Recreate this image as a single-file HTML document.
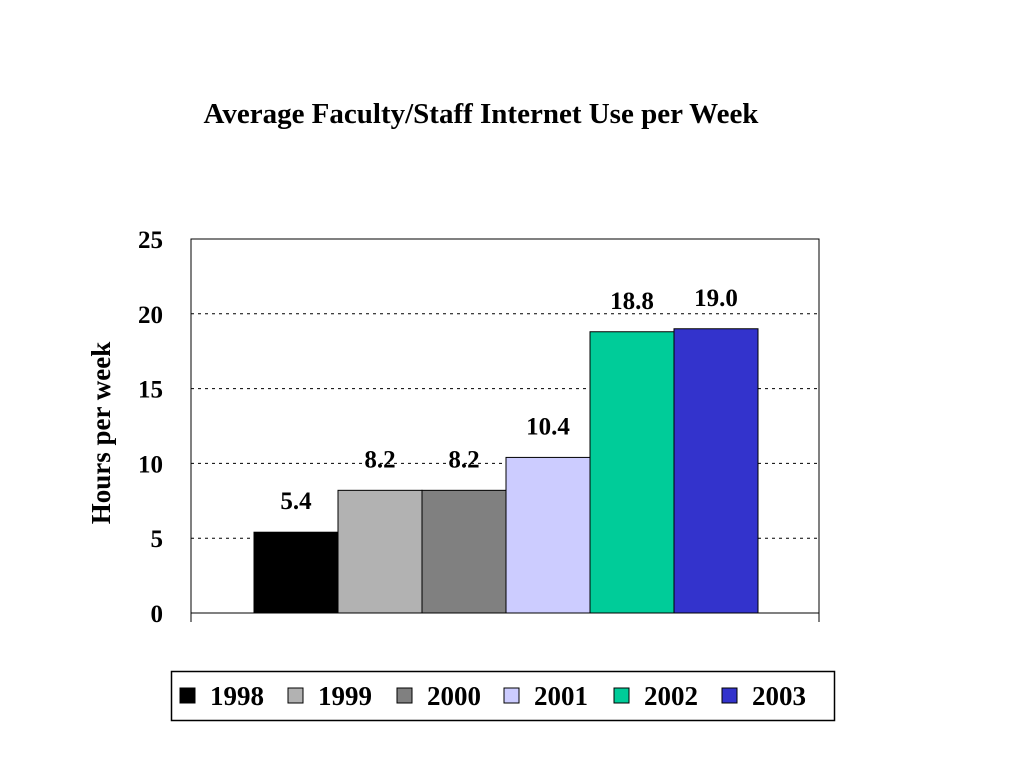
<!DOCTYPE html>
<html><head><meta charset="utf-8"><style>
body{margin:0;background:#fff}
svg{display:block;font-family:"Liberation Serif",serif;font-weight:bold}
</style></head><body>
<svg id="c" width="1024" height="768">
<text x="481" y="123" text-anchor="middle" font-size="29">Average Faculty/Staff Internet Use per Week</text>
<text transform="translate(110,433) rotate(-90)" text-anchor="middle" font-size="27">Hours per week</text>
<g id="grid"></g><g id="bars"></g><g id="labels"></g><g id="ticks"></g>
<rect x="191" y="239" width="628" height="374" fill="none" stroke="#000" stroke-width="1"/>
<rect x="171.5" y="671.5" width="663" height="49" fill="#fff" stroke="#000" stroke-width="1.5"/>
<g id="legend"></g>
</svg>
<script>
const categories=["1998","1999","2000","2001","2002","2003"];
const values=[5.4,8.2,8.2,10.4,18.8,19.0];
const valueLabels=["5.4","8.2","8.2","10.4","18.8","19.0"];
const yTicks=[0,5,10,15,20,25];
const colors=["#000000","#b2b2b2","#808080","#ccccff","#00cc99","#3333cc"];
const NS="http://www.w3.org/2000/svg";
const y0=613,yTop=239,yMax=25;
const yS=v=>y0-(v/yMax)*(y0-yTop);
const bw=84,xStart=254;
const xS=i=>xStart+i*bw;
function mk(t,a,p,txt){const e=document.createElementNS(NS,t);for(const k in a)e.setAttribute(k,a[k]);if(txt!==undefined)e.textContent=txt;document.getElementById(p).appendChild(e);return e;}
yTicks.forEach(t=>{
 const y=yS(t);
 if(t>0&&t<yMax){const g=mk('line',{x1:191,x2:819,y1:y,y2:y,stroke:'#000','stroke-dasharray':'3,4'},'grid');
 
 }
 const tl=mk('text',{x:163,y:y+9,'text-anchor':'end','font-size':25},'ticks',String(t));
 
 
});
mk('line',{x1:191,x2:191,y1:613,y2:622,stroke:'#000'},'ticks');
mk('line',{x1:819,x2:819,y1:613,y2:622,stroke:'#000'},'ticks');
values.forEach((v,i)=>{
 const r=mk('rect',{x:xS(i),y:yS(v),width:bw,height:y0-yS(v),fill:colors[i],stroke:'#000','stroke-width':1},'bars');
 
 
 const l=mk('text',{x:xS(i)+bw/2,y:yS(v)-23,'text-anchor':'middle','font-size':25},'labels',valueLabels[i]);
 
 
});
const legX=[180,288,397,504,614,722];
categories.forEach((c,i)=>{
 const s=mk('rect',{x:legX[i],y:688,width:15,height:15,fill:colors[i],stroke:'#000'},'legend');
 
 
 const t=mk('text',{x:legX[i]+30,y:705,'font-size':27},'legend',c);
 
 
});
</script>
</body></html>
